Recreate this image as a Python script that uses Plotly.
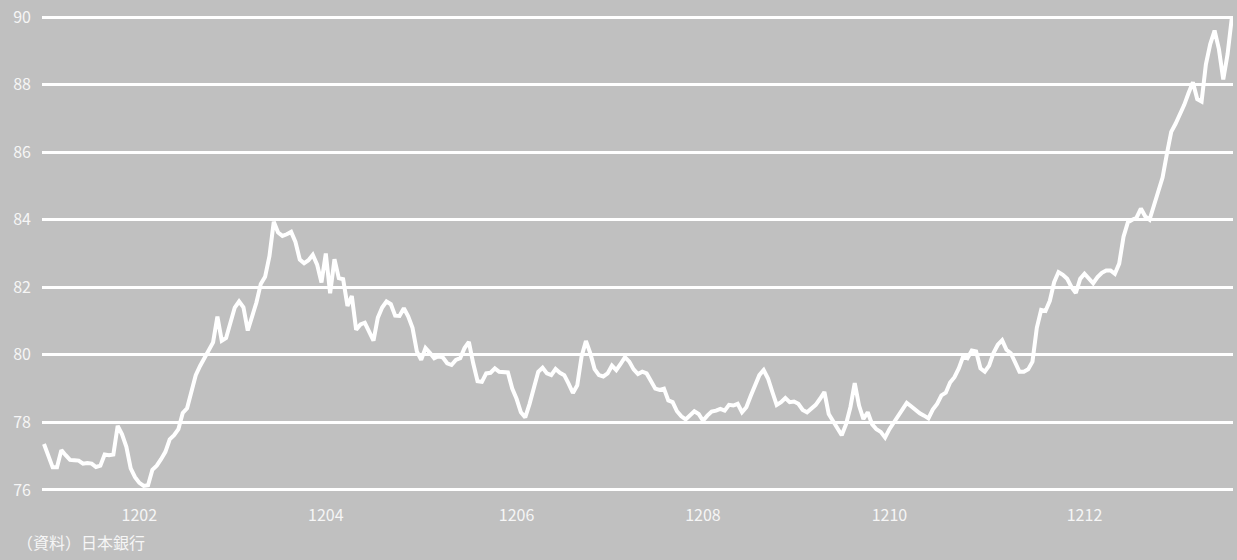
import pandas as pd
import plotly.graph_objects as go

# Daily values (weekdays, 2012-01-02 .. 2013-01-18)
values = [
    77.36, 77.0, 76.67, 76.67, 77.18, 77.03, 76.89, 76.88, 76.87, 76.78,
    76.8, 76.78, 76.68, 76.72, 77.05, 77.03, 77.05, 77.9, 77.65, 77.28,
    76.64, 76.38, 76.21, 76.12, 76.14, 76.6, 76.72, 76.91, 77.13, 77.5,
    77.62, 77.8, 78.28, 78.42, 78.95, 79.4, 79.67, 79.9, 80.11, 80.37,
    81.13, 80.42, 80.5, 81.0, 81.4, 81.58, 81.41, 80.72, 81.12, 81.55,
    82.1, 82.31, 82.92, 83.94, 83.62, 83.52, 83.57, 83.64, 83.34, 82.82,
    82.71, 82.8, 82.96, 82.67, 82.14, 83.0, 81.82, 82.83, 82.27, 82.24,
    81.45, 81.74, 80.74, 80.9, 80.95, 80.66, 80.42, 81.1, 81.4, 81.58,
    81.5, 81.16, 81.15, 81.38, 81.14, 80.8, 80.1, 79.85, 80.2, 80.06,
    79.9, 79.96, 79.92, 79.75, 79.7, 79.85, 79.9, 80.2, 80.38, 79.75,
    79.22, 79.2, 79.45, 79.47, 79.6, 79.5, 79.5, 79.48, 79.0, 78.7,
    78.3, 78.15, 78.55, 79.0, 79.5, 79.62, 79.45, 79.4, 79.58, 79.47,
    79.4, 79.15, 78.87, 79.1, 79.95, 80.41, 80.05, 79.58, 79.4, 79.36,
    79.45, 79.68, 79.55, 79.73, 79.93, 79.8, 79.57, 79.43, 79.5, 79.45,
    79.2, 79.0, 78.96, 79.0, 78.65, 78.6, 78.33, 78.18, 78.09, 78.2,
    78.33, 78.25, 78.05, 78.2, 78.32, 78.35, 78.4, 78.35, 78.52, 78.5,
    78.55, 78.3, 78.45, 78.78, 79.1, 79.4, 79.55, 79.3, 78.9, 78.52,
    78.6, 78.72, 78.6, 78.62, 78.55, 78.37, 78.3, 78.4, 78.52, 78.7,
    78.9, 78.25, 78.05, 77.8, 77.62, 77.95, 78.45, 79.16, 78.5, 78.1,
    78.3, 77.95, 77.8, 77.72, 77.55, 77.8, 78.0, 78.15, 78.4, 78.58,
    78.48, 78.37, 78.27, 78.2, 78.12, 78.38, 78.55, 78.8, 78.88, 79.18,
    79.34, 79.6, 79.95, 79.9, 80.13, 80.1, 79.6, 79.5, 79.68, 80.05,
    80.3, 80.43, 80.15, 80.05, 79.78, 79.5, 79.5, 79.57, 79.8, 80.8,
    81.33, 81.3, 81.6, 82.15, 82.45, 82.37, 82.25, 82.0, 81.83, 82.25,
    82.4, 82.25, 82.12, 82.3, 82.43, 82.5, 82.5, 82.4, 82.7, 83.5,
    83.92, 84.0, 84.06, 84.33, 84.1, 84.0, 84.45, 84.9, 85.25, 85.95,
    86.6, 86.84, 87.1, 87.4, 87.75, 88.07, 87.57, 87.5, 88.6, 89.2,
    89.6, 89.05, 88.15, 88.9, 90.0,
]
dates = [d.strftime("%Y-%m-%d") for d in pd.bdate_range("2012-01-02", periods=len(values))]

tick_dates = ["2012-02-01", "2012-04-02", "2012-06-01", "2012-08-01", "2012-10-01", "2012-12-03"]
tick_labels = ["1202", "1204", "1206", "1208", "1210", "1212"]
y_ticks = [76, 78, 80, 82, 84, 86, 88, 90]

source_note = "（資料）日本銀行"

BG = "#c0c0c0"
FONT = "Noto Sans CJK JP, Noto Sans, sans-serif"

fig = go.Figure()
fig.add_trace(go.Scatter(
    x=dates, y=values, mode="lines",
    line=dict(color="white", width=4),
    hoverinfo="skip", showlegend=False,
    cliponaxis=False,
))

fig.update_layout(
    width=1237, height=560,
    margin=dict(l=42, r=4, t=16, b=69),
    paper_bgcolor=BG, plot_bgcolor=BG,
    font=dict(family=FONT, size=16, color="#f6f6f6"),
    xaxis=dict(
        type="category",
        range=[-0.46, len(values) - 0.75],
        tickmode="array", tickvals=tick_dates, ticktext=tick_labels,
        showgrid=False, zeroline=False, showline=False, ticks="",
        ticklabelstandoff=13,
    ),
    yaxis=dict(
        range=[75.97, 90.03],
        tickmode="array", tickvals=y_ticks,
        showgrid=True, gridcolor="white", gridwidth=3,
        zeroline=False, showline=False, ticks="",
        ticklabelstandoff=10,
    ),
    annotations=[dict(
        text=source_note, xref="paper", yref="paper",
        x=-0.0227, y=-0.108, xanchor="left", yanchor="middle",
        showarrow=False, font=dict(family=FONT, size=16, color="#f6f6f6"),
    )],
)

fig.write_html("out.html")
